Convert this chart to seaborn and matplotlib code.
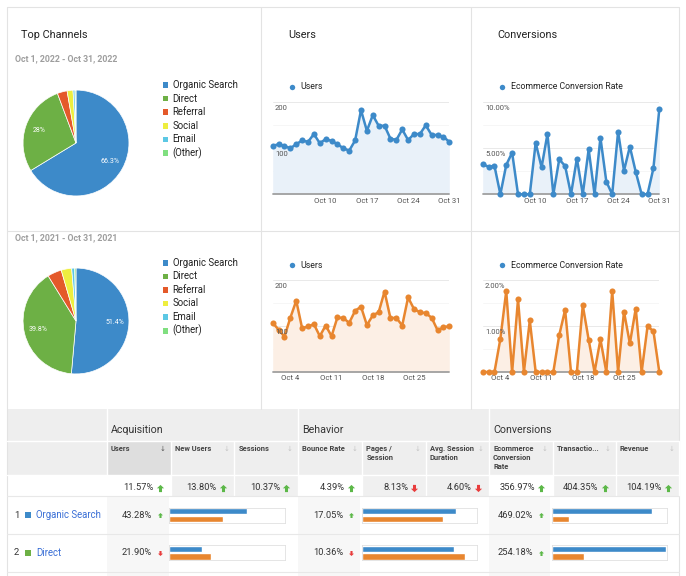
import matplotlib
matplotlib.use("Agg")
import matplotlib.pyplot as plt
from matplotlib.patches import Rectangle
from matplotlib.path import Path
import seaborn as sns

# ---- data ----
channels = ["Organic Search", "Direct", "Referral", "Social", "Email", "(Other)"]
share_2022 = [66.3, 28.0, 3.0, 1.8, 0.6, 0.3]
share_2021 = [51.4, 39.8, 4.3, 3.2, 0.9, 0.4]

days = list(range(1, 32))
users_2022 = [105, 109, 105, 100, 109, 117, 114, 131, 111, 120, 116, 109, 100, 95, 117, 183,
              138, 172, 149, 149, 121, 118, 141, 118, 131, 131, 150, 129, 129, 125, 114]
conv_2022 = [3.26, 3.0, 3.08, 0, 3.19, 4.53, 0, 0, 0, 5.6, 2.93, 6.56, 0, 3.8, 3.08, 0,
             3.88, 0, 4.89, 0, 6.16, 1.38, 0, 6.81, 2.57, 5.18, 2.43, 0, 0, 2.83, 9.24]
users_2021 = [107, 92, 77, 118, 155, 95, 99, 104, 78, 101, 78, 119, 117, 107, 133, 142,
              102, 123, 130, 175, 117, 118, 101, 162, 137, 130, 128, 118, 91, 97, 100]
conv_2021 = [0, 0, 0, 0.72, 1.76, 0, 1.58, 0, 1.12, 0, 0, 0, 0, 0.80, 1.35, 0,
             0, 1.45, 0.70, 0, 0.71, 0, 1.76, 0, 1.31, 0.62, 1.38, 0, 0.99, 0.89, 0]

ticks_2022 = [10, 17, 24, 31]
ticklabels_2022 = ["Oct 10", "Oct 17", "Oct 24", "Oct 31"]
ticks_2021 = [4, 11, 18, 25]
ticklabels_2021 = ["Oct 4", "Oct 11", "Oct 18", "Oct 25"]

groups = ["Acquisition", "Behavior", "Conversions"]
columns = ["Users", "New Users", "Sessions", "Bounce Rate", "Pages /\nSession",
           "Avg. Session\nDuration", "Ecommerce\nConversion\nRate", "Transactio...", "Revenue"]
total_change = ["11.57%", "13.80%", "10.37%", "4.39%", "8.13%", "4.60%", "356.97%", "404.35%", "104.19%"]
total_up = [True, True, True, True, False, False, True, True, True]

rows = ["Organic Search", "Direct"]
row_users = ["43.28%", "21.90%"]
row_users_up = [True, False]
row_bounce = ["17.05%", "10.36%"]
row_bounce_up = [True, False]
row_conv = ["469.02%", "254.18%"]
row_conv_up = [True, True]
# comparison bars (current period, previous period) as % of cell width
users_bar_now = [67.2, 28.4]
users_bar_prev = [46.6, 36.2]
bounce_bar_now = [82.0, 80.0]
bounce_bar_prev = [70.0, 89.4]
conv_bar_now = [87.0, 99.4]
conv_bar_prev = [15.3, 28.3]

# ---- style ----
BLUE = "#3d8ac9"
ORANGE = "#e8862f"
pie_colors = ["#3d8ac9", "#6db045", "#e4592a", "#eeee3f", "#5cc8e4", "#80df80"]
GREEN_ARROW = "#5cb848"
RED_ARROW = "#e83c3c"

sns.set_theme(style="white")
plt.rcParams["font.family"] = ["Roboto", "DejaVu Sans"]

W, H = 686, 576
fig = plt.figure(figsize=(W / 100, H / 100), dpi=100)


def px_axes(x0, y0, x1, y1):
    return fig.add_axes([x0 / W, 1 - y1 / H, (x1 - x0) / W, (y1 - y0) / H])


ov = fig.add_axes([0, 0, 1, 1])
ov.set_xlim(0, W)
ov.set_ylim(H, 0)
ov.axis("off")

LINE = "#e3e3e3"
# panel borders
ov.plot([7.3, 7.3], [7, H], color=LINE, lw=0.8)
ov.plot([679.3, 679.3], [7, H], color=LINE, lw=0.8)
ov.plot([7.3, 679.3], [7, 7], color=LINE, lw=0.8)
ov.plot([7.3, 679.3], [231, 231], color=LINE, lw=0.8)
for xv in [260.7, 470.7]:
    ov.plot([xv, xv], [7, 409], color=LINE, lw=0.8)

# titles
ov.text(21, 34.5, "Top Channels", fontsize=7.8, color="#222", va="center")
ov.text(288, 34.5, "Users", fontsize=7.8, color="#222", va="center")
ov.text(497, 34.5, "Conversions", fontsize=7.8, color="#222", va="center")
ov.text(14.7, 59, "Oct 1, 2022 - Oct 31, 2022", fontsize=6.3, color="#9e9e9e",
        weight="bold", va="center")
ov.text(14.7, 237.3, "Oct 1, 2021 - Oct 31, 2021", fontsize=6.3, color="#9e9e9e",
        weight="bold", va="center")


def pct_label(p):
    if p < 10:
        return ""
    return f"{p:.1f}".rstrip("0").rstrip(".") + "%"


def pie_panel(cx, cy, shares, legend_y):
    ax = px_axes(cx - 54, cy - 54, cx + 54, cy + 54)
    ax.pie(shares, colors=pie_colors, startangle=90, counterclock=False,
           autopct=pct_label, pctdistance=0.73,
           textprops=dict(color="white", fontsize=5),
           wedgeprops=dict(edgecolor="white", linewidth=0.5))
    ax.set_xlim(-1.02, 1.02)
    ax.set_ylim(-1.02, 1.02)
    for i, name in enumerate(channels):
        y = legend_y + i * 13.6
        ov.add_patch(Rectangle((162.7, y - 2.8), 5.6, 5.6, color=pie_colors[i], lw=0))
        ov.text(172.7, y, name, fontsize=6.9, color="#222", va="center")


pie_panel(76, 143, share_2022, 85)
pie_panel(76, 321, share_2021, 262.7)


def line_panel(box, vals, color, fill, ymax, fmt, ticks, ticklabels):
    ax = px_axes(*box)
    ax.set_facecolor("none")
    ax.fill_between(days, vals, color=fill, lw=0, zorder=1)
    sns.lineplot(x=days, y=vals, color=color, lw=1.8, marker="o", markersize=4.4,
                 markeredgewidth=0, ax=ax, clip_on=False, zorder=3)
    ax.set_xlim(1, 31)
    ax.set_ylim(0, ymax)
    ax.set_yticks([ymax / 2, ymax])
    ax.set_yticks([ymax / 4, ymax * 3 / 4], minor=True)
    ax.yaxis.grid(True, which="major", color="#e9e9e9", lw=0.7)
    ax.yaxis.grid(True, which="minor", color="#f5f5f5", lw=0.6)
    ax.tick_params(axis="y", which="both", length=0, labelleft=False)
    ax.axhline(0, color="#a0a0a0", lw=1.3, clip_on=False, zorder=2)
    for v in [ymax / 2, ymax]:
        ax.annotate(fmt(v), xy=(0, v), xycoords=("axes fraction", "data"),
                    xytext=(1.6, -4.0), textcoords="offset points",
                    ha="left", va="center", fontsize=5.5, color="#555", zorder=4)
    ax.set_xticks(ticks)
    ax.set_xticklabels(ticklabels, fontsize=5.6, color="#555")
    ax.tick_params(axis="x", length=0, pad=2.4)
    ax.set_xlabel("")
    ax.set_ylabel("")
    for s in ax.spines.values():
        s.set_visible(False)
    return ax


def legend_dot(x, y, label):
    ov.plot([x], [y], marker="o", markersize=3.9, color=BLUE, mew=0)
    ov.text(x + 9, y, label, fontsize=6.3, color="#222", va="center")


users_fmt = lambda v: f"{v:.0f}"
conv_fmt = lambda v: f"{v:.2f}%"

line_panel((272.7, 102.3, 449.3, 194.3), users_2022, BLUE, "#e9f1f9", 200, users_fmt,
           ticks_2022, ticklabels_2022)
line_panel((482.7, 102.3, 659.3, 194.3), conv_2022, BLUE, "#e9f1f9", 10, conv_fmt,
           ticks_2022, ticklabels_2022)
line_panel((272.7, 280, 449.3, 372), users_2021, ORANGE, "#fcefe5", 200, users_fmt,
           ticks_2021, ticklabels_2021)
line_panel((482.7, 280, 659.3, 372), conv_2021, ORANGE, "#fcefe5", 2, conv_fmt,
           ticks_2021, ticklabels_2021)
legend_dot(291.7, 86.7, "Users")
legend_dot(501.7, 86.7, "Ecommerce Conversion Rate")
legend_dot(291.7, 265, "Users")
legend_dot(501.7, 265, "Ecommerce Conversion Rate")

# ---- table ----
col_edges = [107, 171, 234.3, 297.7, 362.3, 425.7, 489, 552.7, 616, 679.3]
HDR = "#eeeeee"
T0, T1, T2, T3 = 409, 441, 475, 496
row_edges = [496, 534, 571.7, 610]

ov.add_patch(Rectangle((7.3, T0), 672, T2 - T0, color=HDR, lw=0))
ov.add_patch(Rectangle((col_edges[0], T1), col_edges[1] - col_edges[0], T2 - T1,
                       color="#dedede", lw=0))
# totals row
sorted_cols = [0, 3, 6]
for i in range(9):
    c = "white" if i in sorted_cols else "#f0f0f0"
    ov.add_patch(Rectangle((col_edges[i], T2), col_edges[i + 1] - col_edges[i], T3 - T2,
                           color=c, lw=0))
# data cell backgrounds for sorted columns
for i in sorted_cols:
    ov.add_patch(Rectangle((col_edges[i], T3), col_edges[i + 1] - col_edges[i] - 2.5,
                           H - T3, color="#f7f7f7", lw=0))
# separators
ov.plot([7.3, 679.3], [T1, T1], color="white", lw=1)
ov.plot([7.3, 679.3], [T2, T2], color="white", lw=1)
for xv in col_edges:
    ov.plot([xv, xv], [T1, T3], color="white", lw=1)
for xv in [col_edges[0], col_edges[3], col_edges[6]]:
    ov.plot([xv, xv], [T0, T1], color="white", lw=1)
for yv in row_edges[:3]:
    ov.plot([7.3, 679.3], [yv, yv], color="#e8e8e8", lw=0.8)

for g, gi in zip(groups, [0, 3, 6]):
    ov.text(col_edges[gi] + 4, 430, g, fontsize=7.7, color="#333", va="center")

for i, name in enumerate(columns):
    ov.text(col_edges[i] + 4, 445.3, name, fontsize=5.4, color="#444", weight="bold",
            va="top", linespacing=1.18)
    ov.text(col_edges[i + 1] - 8, 449, "\u2193", fontsize=5, va="center", ha="center",
            color="#555" if i == 0 else "#c4c4c4")

up_path = Path([(0, 1), (1, 0.05), (0.42, 0.05), (0.42, -1), (-0.42, -1), (-0.42, 0.05),
                (-1, 0.05), (0, 1)])
down_path = Path([(x, -y) for x, y in up_path.vertices])


def change_cell(col, y, text, up, size, gap, arrow_ms):
    right = col_edges[col + 1]
    ov.text(right - gap, y, text, fontsize=size, color="#333", ha="right", va="center")
    ov.plot([right - 11.3], [y], marker=up_path if up else down_path, markersize=arrow_ms,
            color=GREEN_ARROW if up else RED_ARROW, mew=0)


for i in range(9):
    change_cell(i, 487.7, total_change[i], total_up[i], 6.7, 17.6, 5.2)

bar_boxes = [(169, 285), (361.7, 477.3), (551.7, 667)]
bar_now = [users_bar_now, bounce_bar_now, conv_bar_now]
bar_prev = [users_bar_prev, bounce_bar_prev, conv_bar_prev]
row_vals = [(row_users, row_users_up, 0), (row_bounce, row_bounce_up, 3),
            (row_conv, row_conv_up, 6)]

for r, name in enumerate(rows):
    yc = (row_edges[r] + row_edges[r + 1]) / 2
    ov.text(14, yc, str(r + 1), fontsize=6.8, color="#333", va="center")
    ov.add_patch(Rectangle((24.7, yc - 3), 6, 6, color=pie_colors[r], lw=0))
    ov.text(36, yc, name, fontsize=6.9, color="#3a6fd6", va="center")
    for vals, ups, col in row_vals:
        change_cell(col, yc, vals[r], ups[r], 6.7, 19.2, 3.6)
    for (bx0, bx1), now, prev in zip(bar_boxes, bar_now, bar_prev):
        bax = px_axes(bx0, yc - 7.5, bx1, yc + 7.5)
        bax.set_facecolor("white")
        sns.barplot(x=[now[r], prev[r]], y=["now", "prev"], hue=["now", "prev"],
                    palette=[BLUE, ORANGE], saturation=1, width=0.86, legend=False,
                    ax=bax)
        bax.set_xlim(0, 100)
        bax.set_xticks([])
        bax.set_yticks([])
        bax.set_xlabel("")
        bax.set_ylabel("")
        for s in bax.spines.values():
            s.set_color("#e0e0e0")
            s.set_linewidth(0.6)

fig.savefig("out.png", dpi=100)
